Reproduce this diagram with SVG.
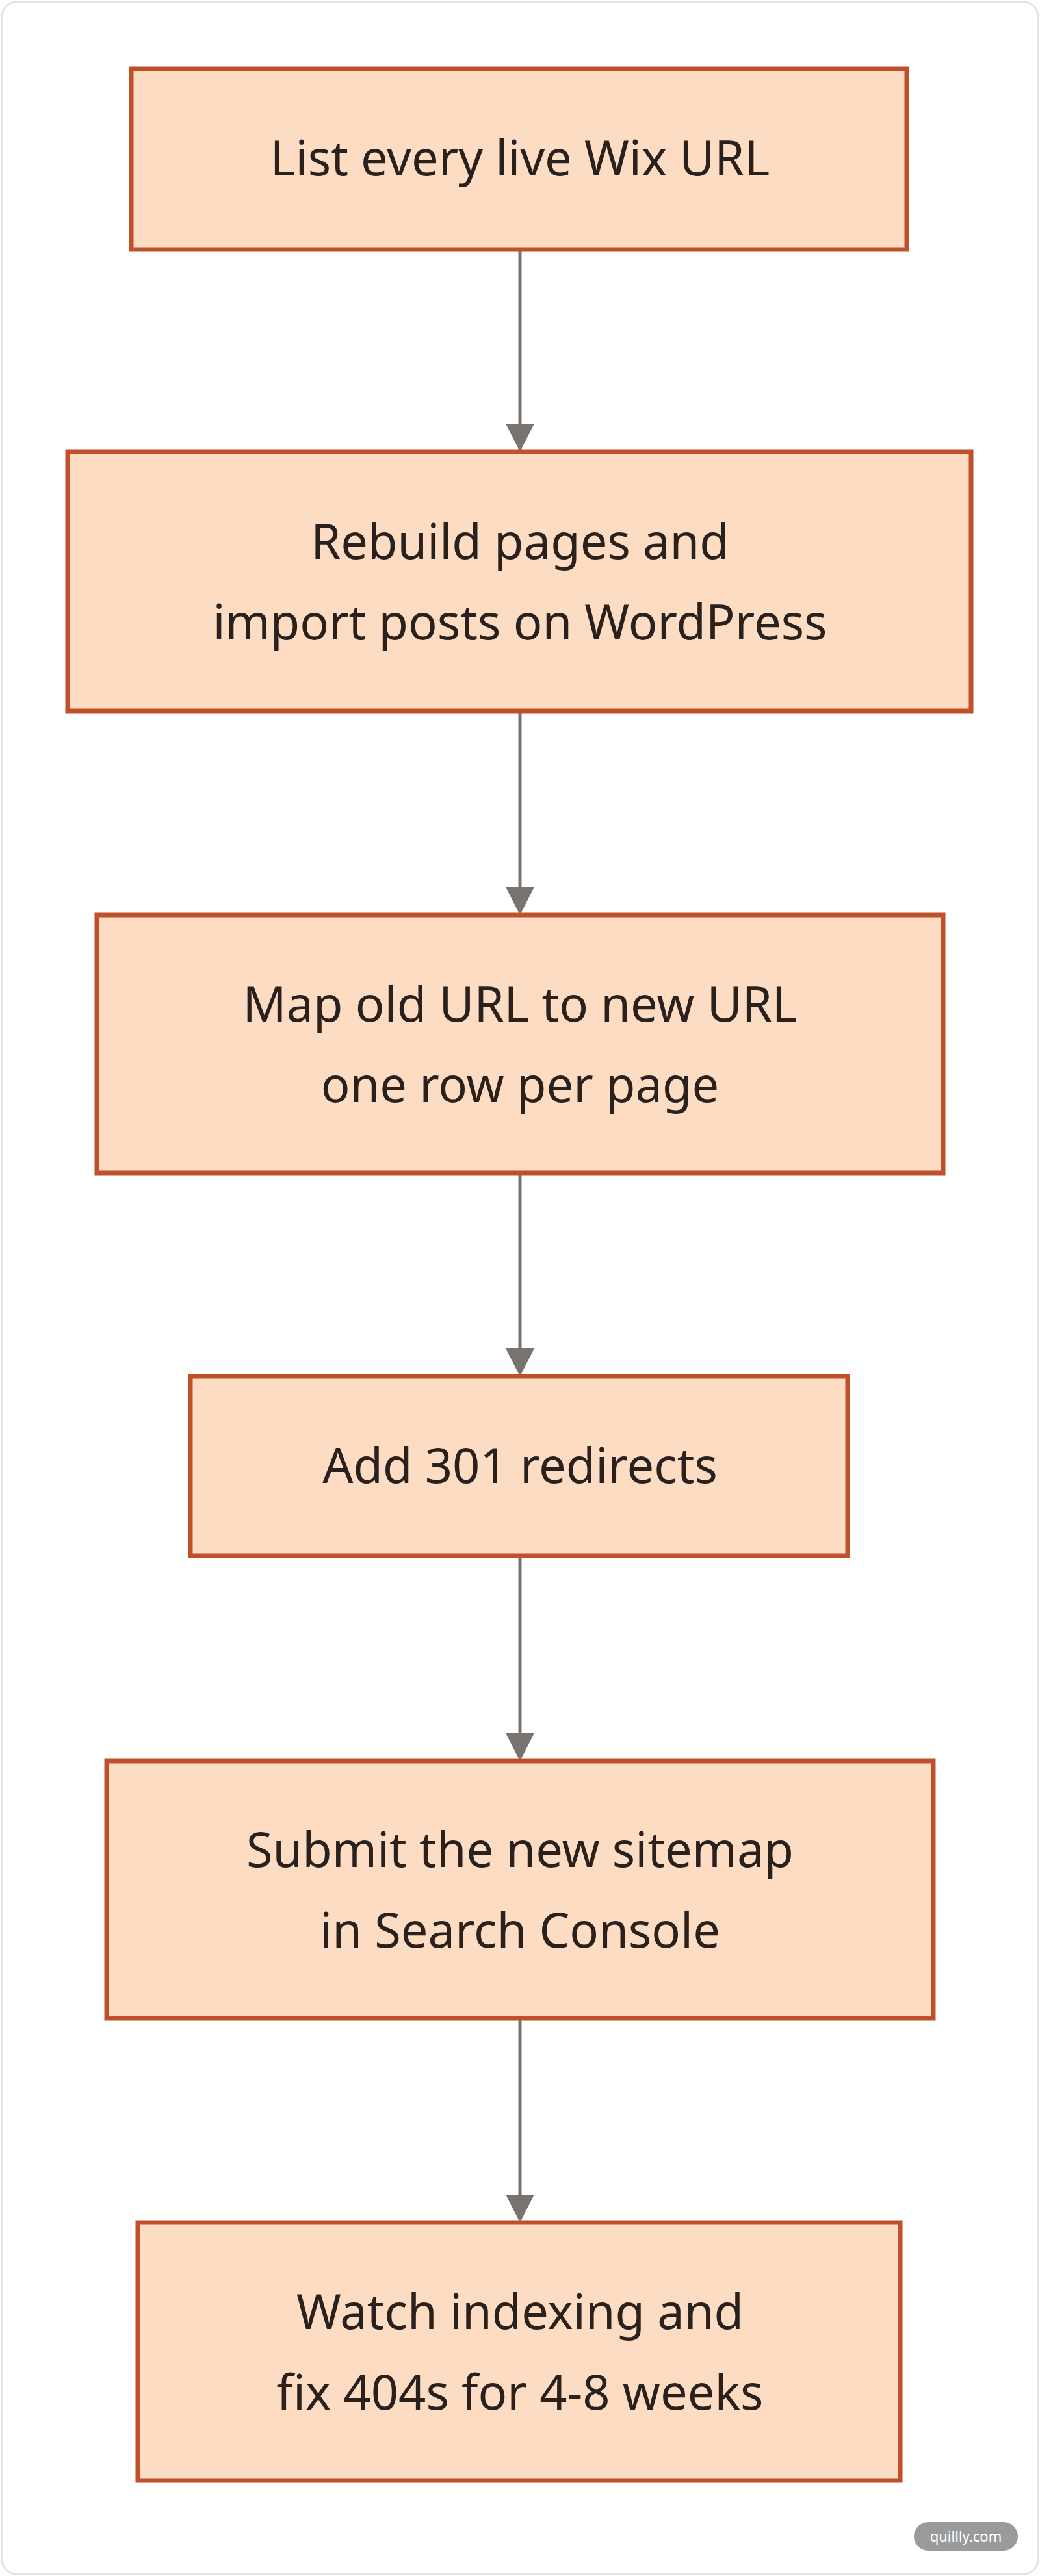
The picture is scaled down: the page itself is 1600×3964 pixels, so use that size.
<svg xmlns="http://www.w3.org/2000/svg" width="1600" height="3964" viewBox="0 0 1600 3964">
<defs>
<style>
.n{fill:#fddcc4;stroke:#c0502a;stroke-width:7}
.t{font-family:"Noto Sans","Open Sans",sans-serif;font-size:74px;fill:#2a201c;text-anchor:middle}
.c{stroke:#77736e;stroke-width:5;fill:none;marker-end:url(#a)}
</style>
<marker id="a" viewBox="0 0 10 10" refX="9" refY="5" markerWidth="9" markerHeight="9" markerUnits="userSpaceOnUse" orient="auto">
<path d="M0,0L10,5L0,10z" fill="#77736e"/>
</marker>
</defs>
<rect x="3" y="3" width="1594" height="3958" rx="22" fill="#fff" stroke="#e4e4e4" stroke-width="3"/>
<g id="connectors">
<path class="c" d="M800,384V695" style="marker-end:none"/><path d="M778,652L822,652L800,695z" fill="#77736e"/>
<path class="c" d="M800,1094V1380" style="marker-end:none"/><path d="M778,1365L822,1365L800,1408z" fill="#77736e"/>
<path class="c" d="M800,1805V2090" style="marker-end:none"/><path d="M778,2075L822,2075L800,2118z" fill="#77736e"/>
<path class="c" d="M800,2394V2680" style="marker-end:none"/><path d="M778,2667L822,2667L800,2710z" fill="#77736e"/>
<path class="c" d="M800,3106V3390" style="marker-end:none"/><path d="M778,3377L822,3377L800,3420z" fill="#77736e"/>
</g>
<g id="n1"><rect class="n" x="202" y="106" width="1193" height="278"/><text class="t" x="800" y="270">List every live Wix URL</text></g>
<g id="n2"><rect class="n" x="104" y="695" width="1390" height="399"/><text class="t" x="800" y="860">Rebuild pages and</text><text class="t" x="800" y="984">import posts on WordPress</text></g>
<g id="n3"><rect class="n" x="149" y="1408" width="1302" height="397"/><text class="t" x="800" y="1572">Map old URL to new URL</text><text class="t" x="800" y="1696">one row per page</text></g>
<g id="n4"><rect class="n" x="293" y="2118" width="1011" height="276"/><text class="t" x="800" y="2282">Add 301 redirects</text></g>
<g id="n5"><rect class="n" x="164" y="2710" width="1272" height="396"/><text class="t" x="800" y="2873">Submit the new sitemap</text><text class="t" x="800" y="2997">in Search Console</text></g>
<g id="n6"><rect class="n" x="212" y="3420" width="1173" height="397"/><text class="t" x="800" y="3584">Watch indexing and</text><text class="t" x="800" y="3708">fix 404s for 4-8 weeks</text></g>
<g id="wm"><rect x="1406" y="3881" width="160" height="44" rx="22" fill="#9a9a9a"/><text x="1486" y="3911" font-family="Noto Sans,sans-serif" font-size="22" fill="#fff" text-anchor="middle">quillly.com</text></g>
</svg>
